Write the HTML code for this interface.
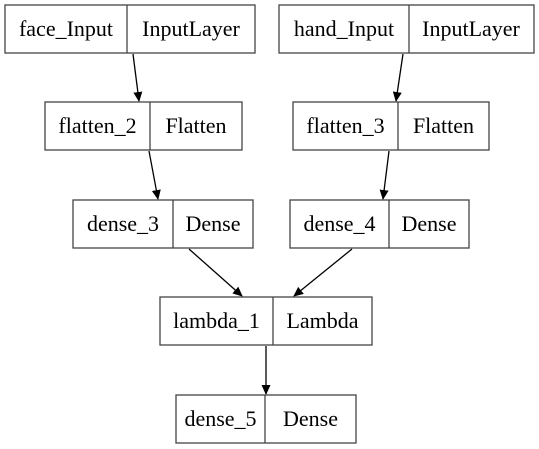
<!DOCTYPE html>
<html><head><meta charset="utf-8"><style>
html,body{margin:0;padding:0;background:#fff;width:539px;height:449px;overflow:hidden}
</style></head><body>
<svg width="539" height="449" viewBox="0 0 539 449" xmlns="http://www.w3.org/2000/svg" font-family="Liberation Serif, serif" font-size="22">
<defs><marker id="a" markerWidth="10" markerHeight="10" refX="9" refY="5" orient="auto" markerUnits="userSpaceOnUse"><path d="M0,0.5 L10,5 L0,9.5 z" fill="#000"/></marker></defs>
<g fill="none" stroke="#000" stroke-width="1.3">
<line x1="133" y1="54" x2="139" y2="101" marker-end="url(#a)"/>
<line x1="403" y1="54" x2="396" y2="101" marker-end="url(#a)"/>
<line x1="149" y1="151" x2="158" y2="199" marker-end="url(#a)"/>
<line x1="389" y1="151" x2="383" y2="199" marker-end="url(#a)"/>
<line x1="189" y1="249" x2="242" y2="296" marker-end="url(#a)"/>
<line x1="352" y1="249" x2="294" y2="296" marker-end="url(#a)"/>
<line x1="266" y1="346" x2="266" y2="394" marker-end="url(#a)"/>
</g>
<g fill="#fff" stroke="#444" stroke-width="1.3">
<rect x="5" y="5" width="250" height="48"/><line x1="127" y1="5" x2="127" y2="53"/>
<rect x="279" y="5" width="255" height="48"/><line x1="409" y1="5" x2="409" y2="53"/>
<rect x="45" y="102" width="197" height="48"/><line x1="150" y1="102" x2="150" y2="150"/>
<rect x="293" y="102" width="196" height="48"/><line x1="398" y1="102" x2="398" y2="150"/>
<rect x="73" y="200" width="180" height="48"/><line x1="173" y1="200" x2="173" y2="248"/>
<rect x="290" y="200" width="179" height="48"/><line x1="389" y1="200" x2="389" y2="248"/>
<rect x="160" y="297" width="212" height="48"/><line x1="273" y1="297" x2="273" y2="345"/>
<rect x="176" y="395" width="180" height="48"/><line x1="265" y1="395" x2="265" y2="443"/>
</g>
<g fill="#000" text-anchor="middle">
<text x="66" y="36">face_Input</text><text x="191" y="36">InputLayer</text>
<text x="344" y="36">hand_Input</text><text x="471" y="36">InputLayer</text>
<text x="97.5" y="133">flatten_2</text><text x="196" y="133">Flatten</text>
<text x="345.5" y="133">flatten_3</text><text x="443.5" y="133">Flatten</text>
<text x="123" y="231">dense_3</text><text x="213" y="231">Dense</text>
<text x="339.5" y="231">dense_4</text><text x="429" y="231">Dense</text>
<text x="216.5" y="328">lambda_1</text><text x="322.5" y="328">Lambda</text>
<text x="220.5" y="426">dense_5</text><text x="310.5" y="426">Dense</text>
</g>
</svg>
</body></html>
